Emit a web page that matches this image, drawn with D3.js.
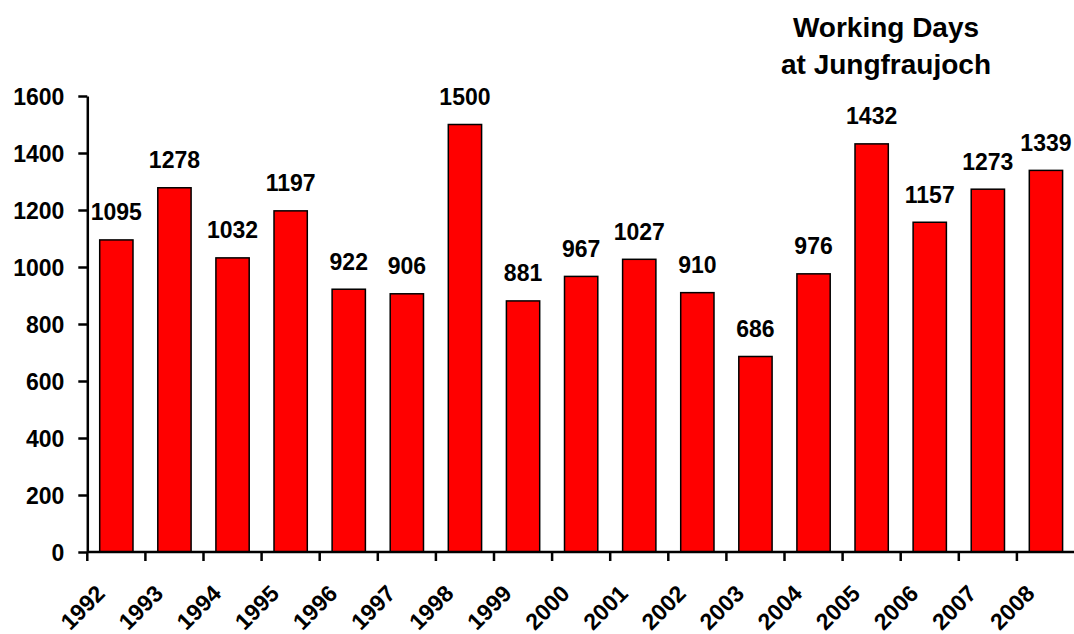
<!DOCTYPE html>
<html>
<head>
<meta charset="utf-8">
<script src="https://cdn.jsdelivr.net/npm/d3@7"></script>
<style>
  html, body { margin: 0; padding: 0; background: #fff; }
  svg { display: block; }
  text { font-family: "Liberation Sans", Arial, sans-serif; font-weight: bold; fill: #000; }
</style>
</head>
<body>
<div id="chart"></div>
<script>
const years = ["1992","1993","1994","1995","1996","1997","1998","1999","2000","2001","2002","2003","2004","2005","2006","2007","2008"];
const workingDays = [1095,1278,1032,1197,922,906,1500,881,967,1027,910,686,976,1432,1157,1273,1339];
const yTicks = [0,200,400,600,800,1000,1200,1400,1600];
const titleLines = ["Working Days","at Jungfraujoch"];

const W = 1074, H = 634;
const svg = d3.select("#chart").append("svg").attr("width", W).attr("height", H);

const left = 87.3, step = 58.1;
const x = d3.scaleBand()
  .domain(years)
  .range([left, left + step * years.length])
  .paddingInner(0.427)
  .paddingOuter(0.2135);
const y = d3.scaleLinear().domain([0, 1600]).range([552, 96]);

// Bars
svg.append("g").selectAll("rect")
  .data(years.map((yr, i) => ({yr, v: workingDays[i]})))
  .join("rect")
  .attr("x", d => x(d.yr))
  .attr("y", d => y(d.v))
  .attr("width", x.bandwidth())
  .attr("height", d => y(0) - y(d.v))
  .attr("fill", "#ff0000")
  .attr("stroke", "#000")
  .attr("stroke-width", 1.5);

// Value labels
svg.append("g").selectAll("text")
  .data(years.map((yr, i) => ({yr, v: workingDays[i]})))
  .join("text")
  .attr("x", d => x(d.yr) + x.bandwidth() / 2)
  .attr("y", d => y(d.v) - 19.5)
  .attr("text-anchor", "middle")
  .attr("font-size", 23)
  .text(d => d.v);

// Y axis
const yAxis = d3.axisLeft(y).tickValues(yTicks).tickFormat(d3.format("d"))
  .tickSize(9).tickPadding(14).tickSizeOuter(0);
const gy = svg.append("g").attr("transform", `translate(${left},0)`).call(yAxis);
gy.select(".domain").attr("stroke", "#000").attr("stroke-width", 2.5);
gy.selectAll(".tick line").attr("stroke", "#000").attr("stroke-width", 2.5);
gy.selectAll(".tick text").attr("font-size", 23).attr("font-family", "Liberation Sans, Arial, sans-serif").attr("font-weight", "bold").attr("dy", "0.36em");

// X axis line
svg.append("line")
  .attr("x1", left).attr("x2", W)
  .attr("y1", y(0)).attr("y2", y(0))
  .attr("stroke", "#000").attr("stroke-width", 2.5);

// X ticks at category boundaries
svg.append("g").selectAll("line")
  .data(years)
  .join("line")
  .attr("x1", d => x(d) + x.bandwidth() / 2 - x.step() / 2)
  .attr("x2", d => x(d) + x.bandwidth() / 2 - x.step() / 2)
  .attr("y1", y(0)).attr("y2", y(0) + 9)
  .attr("stroke", "#000").attr("stroke-width", 2.5);

// X labels rotated
svg.append("g").selectAll("text")
  .data(years)
  .join("text")
  .attr("transform", d => `translate(${x(d) + x.bandwidth() / 2 - 10},595) rotate(-45)`)
  .attr("text-anchor", "end")
  .attr("font-size", 23)
  .text(d => d);

// Title
svg.append("g").selectAll("text")
  .data(titleLines)
  .join("text")
  .attr("x", 886)
  .attr("y", (d, i) => 37 + i * 37)
  .attr("text-anchor", "middle")
  .attr("font-size", 28)
  .text(d => d);
</script>
</body>
</html>
